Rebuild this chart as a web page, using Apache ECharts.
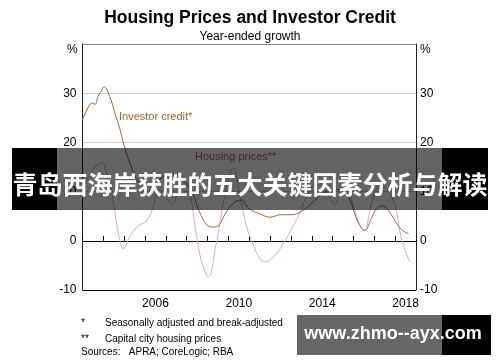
<!DOCTYPE html>
<html><head><meta charset="utf-8">
<script src="https://cdn.jsdelivr.net/npm/echarts@6/dist/echarts.min.js"></script>
<style>html,body{margin:0;padding:0;background:#fff}#c{width:500px;height:362px}</style>
</head><body><div id="c"></div>
<script>
var titleText = 'Housing Prices and Investor Credit';
var subtitleText = 'Year-ended growth';
var yearCategories = ['2003','2004','2005','2006','2007','2008','2009','2010','2011','2012','2013','2014','2015','2016','2017','2018'];
var xLabelYears = ['2006','2010','2014','2018'];
var yTicks = [-10, 0, 10, 20, 30];

var investorDates = [2003.0,2003.35,2003.5,2003.6,2003.75,2003.9,2004.03,2004.3,2004.55,2004.8,2005.0,2005.3,2005.6,2005.9,2006.3,2006.7,2007.1,2007.5,2007.9,2008.3,2008.6,2009.0,2009.3,2009.55,2009.85,2010.2,2010.6,2011.0,2011.5,2012.0,2012.5,2013.0,2013.45,2013.85,2014.4,2014.9,2015.3,2015.6,2015.9,2016.2,2016.55,2016.85,2017.1,2017.4,2017.7,2018.0,2018.3,2018.65];
var investorValues = [24.6,27.7,28.0,27.7,29.4,30.4,31.3,29.4,26.0,22.6,19.3,15.5,12.5,11.0,11.5,12.5,13.5,13.5,12.0,9.5,6.0,3.1,2.8,3.2,5.5,7.5,8.3,6.5,5.5,4.8,5.3,5.3,5.8,7.1,9.2,10.3,10.5,10.2,7.5,4.0,2.1,4.5,6.5,7.1,6.0,4.0,2.3,1.4];

var housingDates = [2003.0,2003.3,2003.6,2003.92,2004.2,2004.45,2004.7,2004.96,2005.3,2005.68,2006.0,2006.3,2006.7,2007.0,2007.3,2007.6,2007.9,2008.15,2008.4,2008.7,2009.04,2009.4,2009.76,2010.0,2010.24,2010.45,2010.65,2010.9,2011.2,2011.5,2011.76,2012.1,2012.48,2012.96,2013.44,2013.84,2014.2,2014.6,2015.1,2015.4,2015.7,2016.0,2016.5,2016.9,2017.3,2017.6,2018.0,2018.3,2018.7];
var housingValues = [11.0,13.0,15.0,15.9,13.0,8.5,2.0,-1.6,1.1,3.1,3.8,5.8,10.5,9.0,7.5,10.0,12.5,10.0,3.0,-4.0,-7.3,-1.0,7.8,12.5,14.9,11.5,7.1,2.5,-0.9,-3.5,-4.3,-3.5,-1.6,1.8,5.8,9.8,11.5,10.5,7.5,10.5,11.0,7.0,2.1,8.0,11.5,10.5,7.1,0.4,-4.3];

var bannerText = '青岛西海岸获胜的五大关键因素分析与解读';
var watermarkText = 'www.zhmo--ayx.com';
var footnotes = ['*', 'Seasonally adjusted and break-adjusted', '**', 'Capital city housing prices', 'Sources:   APRA; CoreLogic; RBA'];

function pairs(d, v) { return d.map(function (t, i) { return [t, v[i]]; }); }

var chart = echarts.init(document.getElementById('c'), null, {renderer: 'canvas'});
var FONT = 'Liberation Sans, Arial, sans-serif';
var option = {
  animation: false,
  textStyle: {fontFamily: FONT},
  title: [
    {text: titleText, left: 'center', top: 4, textStyle: {fontSize: 17.5, fontWeight: 'bold', color: '#000', fontFamily: FONT}},
    {text: subtitleText, left: 'center', top: 26, textStyle: {fontSize: 12, fontWeight: 'normal', color: '#000', fontFamily: FONT}}
  ],
  grid: {left: 82.5, right: 84, top: 44, bottom: 72, show: false},
  xAxis: [
    {type: 'category', data: yearCategories, boundaryGap: true, position: 'bottom',
     axisLine: {show: true, lineStyle: {color: '#000', width: 1}},
     axisTick: {show: true, inside: true, length: 5, interval: 0, lineStyle: {color: '#000'}},
     axisLabel: {interval: 0, color: '#000', fontSize: 12, margin: 8, fontFamily: FONT,
       formatter: function (v) { return xLabelYears.indexOf(v) >= 0 ? v : ''; }},
     splitLine: {show: false}},
    {type: 'value', min: 2003, max: 2019, show: false}
  ],
  yAxis: [
    {type: 'value', min: -10, max: 40, interval: 10, position: 'left',
     axisLine: {show: true, lineStyle: {color: '#222', width: 1}},
     axisTick: {show: false},
     axisLabel: {color: '#000', fontSize: 12, margin: 6, fontFamily: FONT,
       formatter: function (v) { return yTicks.indexOf(v) >= 0 ? String(v) : ''; }},
     splitLine: {show: true, lineStyle: {color: ['#000', '#333', '#cfcfcf', '#cfcfcf', '#cfcfcf', '#8a8a8a'], width: 1}}},
    {type: 'value', min: -10, max: 40, interval: 10, position: 'right',
     axisLine: {show: true, lineStyle: {color: '#222', width: 1}},
     axisTick: {show: false},
     axisLabel: {color: '#000', fontSize: 12, margin: 4, fontFamily: FONT,
       formatter: function (v) { return yTicks.indexOf(v) >= 0 ? String(v) : ''; }},
     splitLine: {show: false}}
  ],
  series: [
    {name: 'Housing prices', type: 'line', xAxisIndex: 1, yAxisIndex: 0, smooth: 0.4, symbol: 'none',
     lineStyle: {color: '#e6a0d4', width: 1}, data: pairs(housingDates, housingValues), z: 3},
    {name: 'Investor credit', type: 'line', xAxisIndex: 1, yAxisIndex: 0, smooth: 0.4, symbol: 'none',
     lineStyle: {color: '#a8663c', width: 1}, data: pairs(investorDates, investorValues), z: 4}
  ],
  graphic: [
    {type: 'text', left: 119, top: 111, style: {text: 'Investor credit*', fill: '#a8602e', font: '11px ' + FONT}, z: 10},
    {type: 'text', left: 195, top: 151, style: {text: 'Housing prices**', fill: '#c0589a', font: '11px ' + FONT}, z: 10},
    {type: 'text', left: 67, top: 44, style: {text: '%', fill: '#000', font: '12px ' + FONT}, z: 10},
    {type: 'text', left: 420, top: 44, style: {text: '%', fill: '#000', font: '12px ' + FONT}, z: 10},
    {type: 'text', left: 81, top: 318, style: {text: footnotes[0], fill: '#000', font: '10px ' + FONT}, z: 10},
    {type: 'text', left: 105, top: 318, style: {text: footnotes[1], fill: '#000', font: '10px ' + FONT}, z: 10},
    {type: 'text', left: 81, top: 334, style: {text: footnotes[2], fill: '#000', font: '10px ' + FONT}, z: 10},
    {type: 'text', left: 105, top: 334, style: {text: footnotes[3], fill: '#000', font: '10px ' + FONT}, z: 10},
    {type: 'text', left: 81, top: 347, style: {text: footnotes[4], fill: '#000', font: '10px ' + FONT}, z: 10},
    // banner
    {type: 'rect', shape: {x: 12, y: 148, width: 45, height: 62}, style: {fill: '#000'}, z: 20},
    {type: 'rect', shape: {x: 442, y: 148, width: 46, height: 62}, style: {fill: '#000'}, z: 20},
    {type: 'rect', shape: {x: 57, y: 148, width: 385, height: 62}, style: {fill: 'rgba(0,0,0,0.61)'}, z: 20},
    {type: 'text', x: 250, y: 184, style: {text: bannerText, fill: '#fff', font: 'bold 25px "Noto Sans CJK SC"', textAlign: 'center', textVerticalAlign: 'middle'}, z: 21},
    // watermark
    {type: 'rect', shape: {x: 297, y: 315, width: 145, height: 40}, style: {fill: 'rgba(0,0,0,0.6)'}, z: 20},
    {type: 'rect', shape: {x: 442, y: 315, width: 49, height: 40}, style: {fill: '#000'}, z: 20},
    {type: 'text', x: 393, y: 334, style: {text: watermarkText, fill: '#fff', font: 'bold 18px "Liberation Sans", Arial', textAlign: 'center', textVerticalAlign: 'middle'}, z: 21}
  ]
};
chart.setOption(option);
</script>
</body></html>
